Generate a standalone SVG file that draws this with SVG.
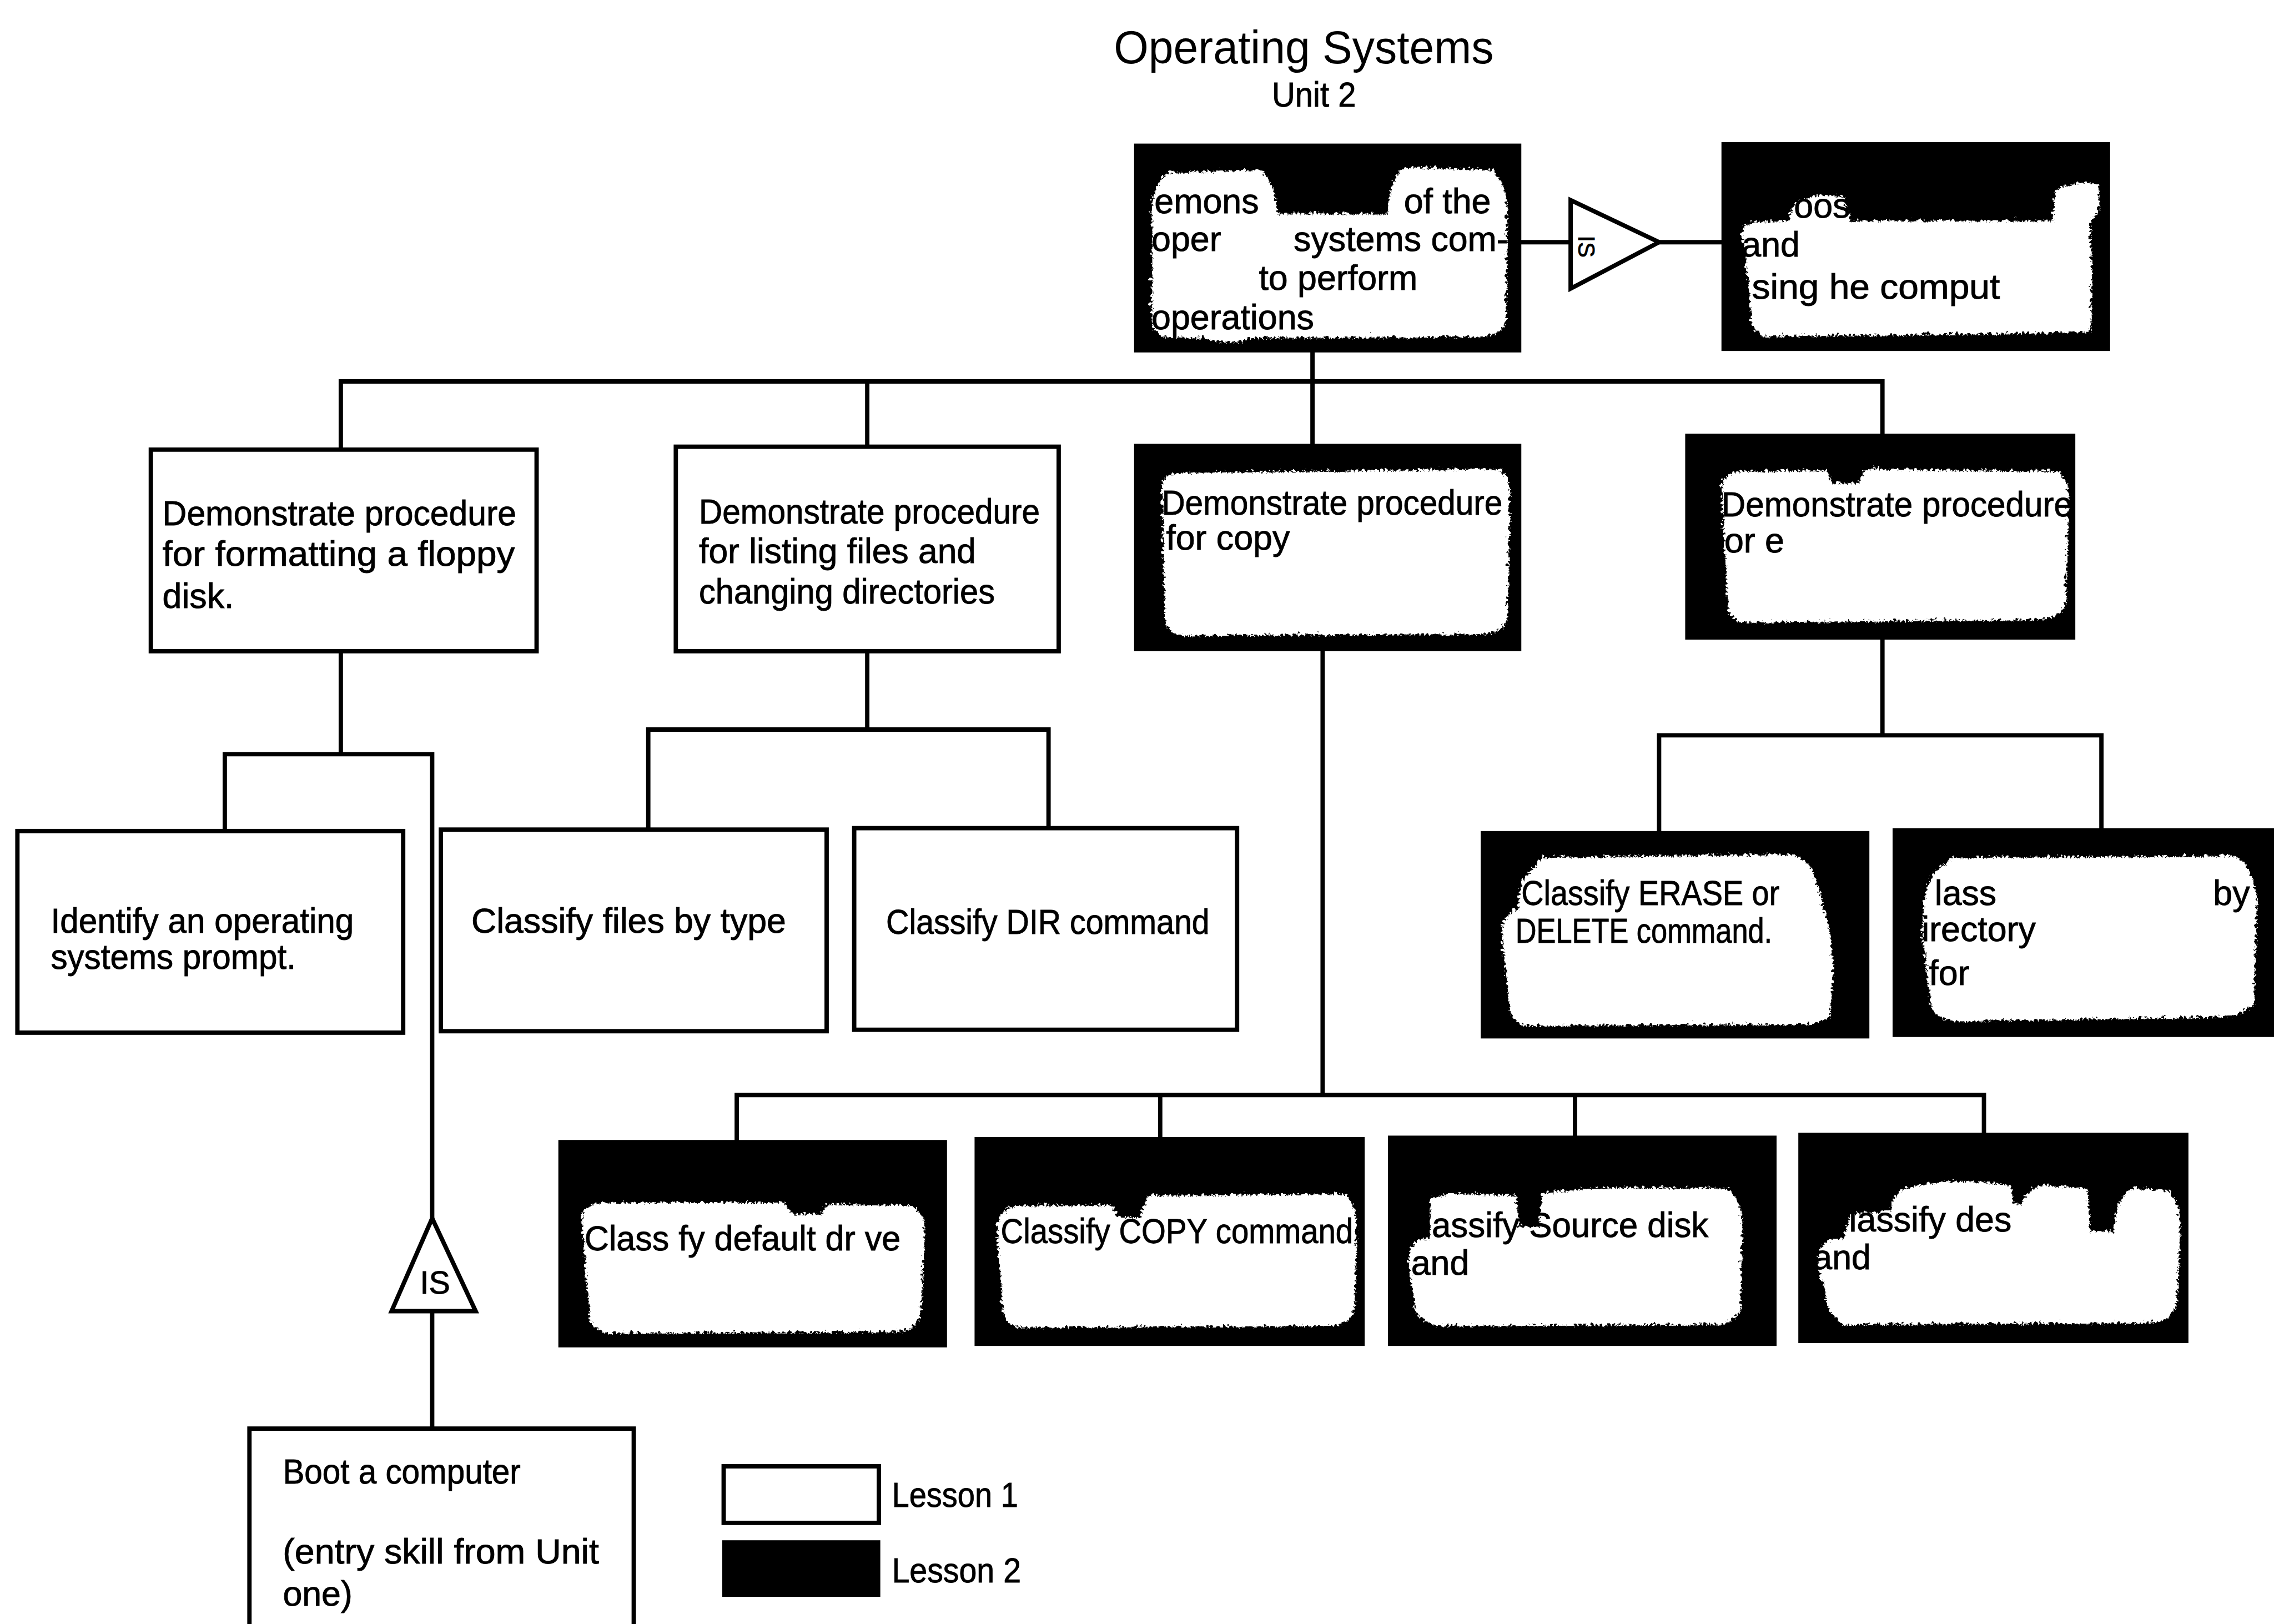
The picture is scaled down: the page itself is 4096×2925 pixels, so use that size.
<svg xmlns="http://www.w3.org/2000/svg" width="4096" height="2925" viewBox="0 0 4096 2925">
  <defs>
    <style>
      .box { fill: #fff; stroke: #000; stroke-width: 3; }
      .dark { fill: #000; stroke: #000; stroke-width: 2; }
      .cloud { fill: #fff; }
      .t { font-family: "Liberation Sans", Arial, sans-serif; font-size: 24px; fill: #000; stroke: #000; stroke-width: 0.35; }
      .h { stroke-width: 0; }
      .conn { stroke: #000; stroke-width: 3; fill: none; stroke-linecap: square; }
      .tri { fill: #fff; stroke: #000; stroke-width: 3; stroke-linejoin: miter; }
    </style>
    <!-- ragged edge for the white-out patches -->
    <filter id="rough" x="-5%" y="-8%" width="110%" height="116%">
      <feTurbulence type="turbulence" baseFrequency="0.35" numOctaves="2" seed="7" result="noise"/>
      <feDisplacementMap in="SourceGraphic" in2="noise" scale="5" xChannelSelector="R" yChannelSelector="G"/>
    </filter>
  </defs>

  <rect x="0" y="0" width="4096" height="2925" fill="#fff"/>

  <g transform="scale(2.612245)">
    <!-- heading -->
    <g id="heading">
      <text class="t h" x="768" y="43.5" style="font-size:32px" textLength="262" lengthAdjust="spacingAndGlyphs">Operating Systems</text>
      <text class="t" x="877" y="73.5" textLength="58" lengthAdjust="spacingAndGlyphs">Unit 2</text>
    </g>

    <!-- connectors -->
    <g id="connectors">
      <path class="conn" d="M1048,167 H1083 M1144,167 H1188"/>
      <path class="conn" d="M905,241 V263 M235,263 H1298 M235,263 V310 M598,263 V308 M905,263 V307 M1298,263 V300"/>
      <path class="conn" d="M235,449 V520 M155,520 H298 M155,520 V573 M298,520 V840 M298,904 V985"/>
      <path class="conn" d="M598,449 V503 M447,503 H723 M447,503 V572 M723,503 V571"/>
      <path class="conn" d="M912,448 V755 M508,755 H1368 M508,755 V787 M800,755 V785 M1086,755 V784 M1368,755 V781"/>
      <path class="conn" d="M1298,440 V507 M1144,507 H1449 M1144,507 V574 M1449,507 V572"/>
    </g>

    <!-- terminal objective -->
    <g id="node-top">
      <rect class="dark" x="783" y="100" width="265" height="142"/>
      <path class="cloud" filter="url(#rough)" d="M793,150 Q792,124 805,118 L868,116 Q878,125 880,146 L955,146 Q958,118 968,114 L1028,116 Q1038,125 1038,150 L1037,220 Q1035,230 1020,231 L860,232 Q850,238 830,232 L800,231 Q792,226 793,215 Z"/>
      <text class="t" x="796" y="147">emons</text>
      <text class="t" x="968" y="147">of the</text>
      <text class="t" x="794" y="173">oper</text>
      <text class="t" x="892" y="173">systems com-</text>
      <text class="t" x="868" y="200">to perform</text>
      <text class="t" x="794" y="227">operations</text>
    </g>

    <!-- supporting-skill symbol -->
    <g id="node-si">
      <polygon class="tri" points="1083,138 1083,199 1144,167"/>
      <text class="t" transform="translate(1094,170) rotate(90)" x="0" y="5.5" text-anchor="middle" style="font-size:16px">IS</text>
    </g>

    <g id="node-choose">
      <rect class="dark" x="1188" y="99" width="266" height="142"/>
      <path class="cloud" filter="url(#rough)" d="M1200,160 Q1200,152 1210,152 L1232,151 L1235,140 Q1250,130 1270,135 L1275,151 L1414,151 L1416,130 Q1430,122 1446,126 L1446,145 L1440,152 Q1442,190 1440,228 L1215,231 Q1205,225 1206,215 L1204,190 Z"/>
      <text class="t" x="1237" y="150">oose</text>
      <text class="t" x="1201" y="177">and</text>
      <text class="t" x="1208" y="206" textLength="171" lengthAdjust="spacingAndGlyphs">sing  he comput</text>
    </g>

    <!-- second level -->
    <g id="node-format">
      <rect class="box" x="104" y="310" width="266" height="139"/>
      <text class="t" x="112" y="362" textLength="244" lengthAdjust="spacingAndGlyphs">Demonstrate procedure</text>
      <text class="t" x="112" y="390" textLength="243" lengthAdjust="spacingAndGlyphs">for formatting a floppy</text>
      <text class="t" x="112" y="419">disk.</text>
    </g>

    <g id="node-listing">
      <rect class="box" x="466" y="308" width="264" height="141"/>
      <text class="t" x="482" y="361" textLength="235" lengthAdjust="spacingAndGlyphs">Demonstrate procedure</text>
      <text class="t" x="482" y="388" textLength="191" lengthAdjust="spacingAndGlyphs">for listing files and</text>
      <text class="t" x="482" y="416" textLength="204" lengthAdjust="spacingAndGlyphs">changing directories</text>
    </g>

    <g id="node-copy">
      <rect class="dark" x="783" y="307" width="265" height="141"/>
      <path class="cloud" filter="url(#rough)" d="M800,335 Q800,325 812,325 L1030,322 Q1040,325 1040,340 L1038,425 Q1035,436 1020,436 L815,437 Q803,436 802,425 Z"/>
      <text class="t" x="801" y="355" textLength="235" lengthAdjust="spacingAndGlyphs">Demonstrate procedure</text>
      <text class="t" x="804" y="379">for copy</text>
    </g>

    <g id="node-erase">
      <rect class="dark" x="1163" y="300" width="267" height="140"/>
      <path class="cloud" filter="url(#rough)" d="M1186,335 Q1187,325 1198,324 L1258,323 L1262,332 L1280,332 L1285,322 L1418,324 Q1426,330 1425,345 L1423,415 Q1420,425 1405,426 L1200,428 Q1190,425 1190,415 Z"/>
      <text class="t" x="1187" y="356" textLength="242" lengthAdjust="spacingAndGlyphs">Demonstrate procedure</text>
      <text class="t" x="1189" y="381">or e</text>
    </g>

    <!-- third level, left -->
    <g id="node-prompt">
      <rect class="box" x="12" y="573" width="266" height="139"/>
      <text class="t" x="35" y="643" textLength="209" lengthAdjust="spacingAndGlyphs">Identify an operating</text>
      <text class="t" x="35" y="668" textLength="169" lengthAdjust="spacingAndGlyphs">systems prompt.</text>
    </g>

    <g id="node-is">
      <polygon class="tri" points="298,840 270,904 328,904"/>
      <text class="t" x="300" y="892" text-anchor="middle" style="font-size:22px">IS</text>
    </g>

    <g id="node-boot">
      <rect class="box" x="172" y="985" width="265" height="145"/>
      <text class="t" x="195" y="1023" textLength="164" lengthAdjust="spacingAndGlyphs">Boot a computer</text>
      <text class="t" x="195" y="1078" textLength="218" lengthAdjust="spacingAndGlyphs">(entry skill from Unit</text>
      <text class="t" x="195" y="1107">one)</text>
    </g>

    <g id="node-filetype">
      <rect class="box" x="304" y="572" width="266" height="139"/>
      <text class="t" x="325" y="643" textLength="217" lengthAdjust="spacingAndGlyphs">Classify files by type</text>
    </g>

    <g id="node-dir">
      <rect class="box" x="589" y="571" width="264" height="139"/>
      <text class="t" x="611" y="644" textLength="223" lengthAdjust="spacingAndGlyphs">Classify DIR command</text>
    </g>

    <!-- third level, right -->
    <g id="node-delete">
      <rect class="dark" x="1022" y="574" width="266" height="141"/>
      <path class="cloud" filter="url(#rough)" d="M1046,625 Q1046,604 1054,600 L1062,590 L1235,588 Q1248,592 1252,610 Q1262,640 1263,670 L1260,700 Q1250,706 1240,705 L1050,706 Q1040,703 1039,690 L1034,640 Q1036,628 1046,625 Z"/>
      <text class="t" x="1049" y="624" textLength="178" lengthAdjust="spacingAndGlyphs">Classify ERASE or</text>
      <text class="t" x="1045" y="650" textLength="177" lengthAdjust="spacingAndGlyphs">DELETE command.</text>
    </g>

    <g id="node-bydir">
      <rect class="dark" x="1306" y="572" width="272" height="142"/>
      <path class="cloud" filter="url(#rough)" d="M1324,640 Q1325,605 1335,598 L1345,590 L1540,589 Q1552,595 1555,620 L1553,690 Q1545,700 1530,700 L1345,703 Q1330,700 1330,690 Z"/>
      <text class="t" x="1334" y="624">lass</text>
      <text class="t" x="1526" y="624">by</text>
      <text class="t" x="1325" y="649">irectory</text>
      <text class="t" x="1330" y="679">for</text>
    </g>

    <!-- bottom row -->
    <g id="node-drive">
      <rect class="dark" x="386" y="787" width="266" height="141"/>
      <path class="cloud" filter="url(#rough)" d="M400,840 Q400,829 412,828 L540,828 L545,836 L565,836 L570,829 L628,830 Q637,836 636,850 L634,905 Q630,917 615,917 L418,918 Q405,915 405,905 Z"/>
      <text class="t" x="403" y="862" textLength="218" lengthAdjust="spacingAndGlyphs">Class fy default dr ve</text>
    </g>

    <g id="node-copycmd">
      <rect class="dark" x="673" y="785" width="267" height="142"/>
      <path class="cloud" filter="url(#rough)" d="M686,845 Q688,832 700,830 L765,830 L770,838 L785,838 L790,823 L925,822 Q935,828 934,845 L933,900 Q930,913 915,913 L700,914 Q690,910 690,900 Z"/>
      <text class="t" x="690" y="857" textLength="243" lengthAdjust="spacingAndGlyphs">Classify COPY command</text>
    </g>

    <g id="node-source">
      <rect class="dark" x="958" y="784" width="266" height="143"/>
      <path class="cloud" filter="url(#rough)" d="M970,870 Q970,855 980,853 L984,853 L985,826 Q995,820 1010,822 L1044,823 L1046,845 L1060,845 L1062,822 Q1100,816 1150,818 L1190,818 Q1200,825 1200,845 L1199,900 Q1196,912 1180,912 L990,913 Q975,910 974,898 Z"/>
      <text class="t" x="982" y="853" textLength="196" lengthAdjust="spacingAndGlyphs">lassify Source disk</text>
      <text class="t" x="973" y="879">and</text>
    </g>

    <g id="node-dest">
      <rect class="dark" x="1241" y="782" width="267" height="143"/>
      <path class="cloud" filter="url(#rough)" d="M1252,870 Q1252,856 1262,853 L1270,853 L1274,836 L1302,834 Q1304,822 1312,818 Q1340,810 1385,816 L1387,829 L1393,829 Q1395,818 1410,816 L1438,818 L1440,848 L1456,848 Q1458,822 1470,818 L1495,820 Q1503,830 1502,850 L1500,895 Q1497,910 1480,911 L1270,912 Q1258,905 1257,890 Z"/>
      <text class="t" x="1275" y="849">lassify des</text>
      <text class="t" x="1250" y="875">and</text>
    </g>

    <!-- key -->
    <g id="legend">
      <rect class="box" x="499" y="1011" width="107" height="39"/>
      <text class="t" x="615" y="1039" textLength="87" lengthAdjust="spacingAndGlyphs">Lesson 1</text>
      <rect class="dark" x="499" y="1063" width="107" height="37"/>
      <text class="t" x="615" y="1091" textLength="89" lengthAdjust="spacingAndGlyphs">Lesson 2</text>
    </g>
  </g>
</svg>
